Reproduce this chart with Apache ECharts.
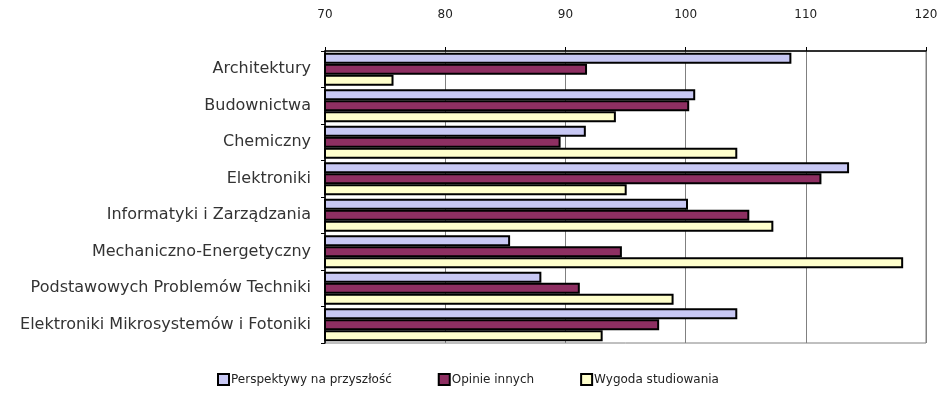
<!DOCTYPE html>
<html>
<head>
	<meta charset="UTF-8">
	<title></title>
	<script src="https://cdn.jsdelivr.net/npm/echarts@6/dist/echarts.min.js"></script>
	<style>
		html, body {
			width: 100%;
			height: 100%;
			margin: 0;
			padding: 0;
			background: #fff;
		}
		#chart {
			width: 941px;
			height: 403px;
		}
	</style>
</head>
<body>
	<div id="chart"></div>
<script>
	var categories = ['Architektury', 'Budownictwa', 'Chemiczny', 'Elektroniki',
		'Informatyki i Zarządzania', 'Mechaniczno-Energetyczny',
		'Podstawowych Problemów Techniki', 'Elektroniki Mikrosystemów i Fotoniki'];
	var seriesNames = ['Perspektywy na przyszłość', 'Opinie innych', 'Wygoda studiowania'];
	var perspektywy = [108.8, 100.8, 91.7, 113.6, 100.2, 85.4, 88.0, 104.3];
	var opinie = [91.8, 100.3, 89.6, 111.3, 105.3, 94.7, 91.2, 97.8];
	var wygoda = [75.7, 94.2, 104.3, 95.1, 107.3, 118.1, 99.0, 93.1];
	var xTicks = [70, 80, 90, 100, 110, 120];

	var colors = ['#c8c8f4', '#8e2f62', '#ffffcc'];
	var values = [perspektywy, opinie, wygoda];

	var chart = echarts.init(document.getElementById('chart'));
	var font = 'DejaVu Sans, Liberation Sans, sans-serif';

	var series = seriesNames.map(function(name, i) {
		return {
			name: name,
			type: 'bar',
			data: values[i],
			barGap: '0%',
			barCategoryGap: '10%',
			itemStyle: {
				color: colors[i],
				borderColor: '#000',
				borderWidth: 2
			},
			emphasis: { disabled: true }
		};
	});

	chart.setOption({
		animation: false,
		textStyle: { fontFamily: font },
		grid: {
			left: 325,
			right: 15,
			top: 51,
			bottom: 60,
			show: true,
			borderColor: '#808080',
			borderWidth: 1
		},
		legend: {
			bottom: 12,
			left: 212,
			icon: 'rect',
			itemWidth: 11,
			itemHeight: 11,
			itemGap: 46,
			textStyle: { fontSize: 12, color: '#222', padding: [0, 0, 0, -3] },
			data: seriesNames
		},
		xAxis: {
			type: 'value',
			position: 'top',
			min: xTicks[0],
			max: xTicks[xTicks.length - 1],
			interval: 10,
			axisLine: { show: true, lineStyle: { color: '#000', width: 1.5 } },
			axisTick: { show: true, length: 4, lineStyle: { color: '#000' } },
			axisLabel: { color: '#222', fontSize: 12, margin: 30 },
			splitLine: { show: true, lineStyle: { color: '#808080', width: 1 } }
		},
		yAxis: {
			type: 'category',
			inverse: true,
			data: categories,
			axisLine: { show: true, lineStyle: { color: '#000', width: 1.5 } },
			axisTick: { show: true, length: 4, lineStyle: { color: '#000' } },
			axisLabel: { color: '#333', fontSize: 16, margin: 14 }
		},
		series: series
	});
</script>
</body>
</html>
